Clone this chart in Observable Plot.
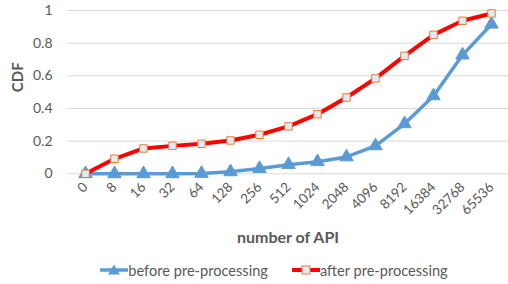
<!DOCTYPE html>
<html>
<head>
<meta charset="utf-8">
<script src="https://cdn.jsdelivr.net/npm/d3@7"></script>
<script src="https://cdn.jsdelivr.net/npm/@observablehq/plot@0.6"></script>
<style>
  html, body { margin: 0; padding: 0; background: #fff; }
  body { width: 508px; height: 284px; overflow: hidden; font-family: Lato, "Open Sans", sans-serif; }
  #legend { display: flex; justify-content: center; align-items: center; height: 28px; font-size: 14.6px; color: #595959; gap: 24px; padding-left: 40px; box-sizing: border-box; width: 508px; }
  #legend .item { display: flex; align-items: center; }
  #legend svg { display: block; }
</style>
</head>
<body>
<div id="chart"></div>
<div id="legend"></div>
<script>
const labels = ["0","8","16","32","64","128","256","512","1024","2048","4096","8192","16384","32768","65536"];
const before = [0, 0, 0, 0, 0.002, 0.012, 0.032, 0.056, 0.074, 0.103, 0.171, 0.306, 0.477, 0.727, 0.916];
const after = [0, 0.092, 0.155, 0.171, 0.184, 0.204, 0.239, 0.290, 0.365, 0.467, 0.584, 0.722, 0.851, 0.937, 0.982];
const yTicks = [0, 0.2, 0.4, 0.6, 0.8, 1];
const seriesNames = ["before pre-processing", "after pre-processing"];

const blue = "#5B9BD5", red = "#FF0000", orange = "#ED7D31", sqFill = "#DDEBF7";

const dBefore = labels.map((l, i) => ({x: l, y: before[i]}));
const dAfter = labels.map((l, i) => ({x: l, y: after[i]}));

const chart = Plot.plot({
  width: 508,
  height: 256,
  marginTop: 10,
  marginBottom: 82.7,
  marginLeft: 67,
  marginRight: 0,
  style: {fontFamily: "Lato, 'Open Sans', sans-serif", fontSize: "13px", color: "#595959", background: "#fff"},
  x: {type: "point", domain: labels, padding: 0.5},
  y: {domain: [0, 1]},
  marks: [
    Plot.gridY(yTicks, {stroke: "#D9D9D9", strokeOpacity: 1, strokeWidth: 1}),
    Plot.axisY(yTicks, {tickSize: 0, tickPadding: 15, label: null, fontSize: 14, fill: "#595959", tickFormat: d => String(d)}),
    Plot.axisX(labels, {tickSize: 0, tickPadding: 11, tickRotate: -45, label: null, fontSize: 13.5, fill: "#595959"}),
    Plot.line(dBefore, {x: "x", y: "y", stroke: blue, strokeWidth: 3.5}),
    Plot.dot(dBefore, {x: "x", y: "y", symbol: "triangle", r: 5, fill: blue, stroke: blue, strokeWidth: 1}),
    Plot.line(dAfter, {x: "x", y: "y", stroke: red, strokeWidth: 4}),
    Plot.dot(dAfter, {x: "x", y: "y", symbol: "square", r: 4.2, fill: sqFill, stroke: orange, strokeWidth: 1}),
    Plot.text(["CDF"], {frameAnchor: "left", dx: -49, rotate: -90, fontWeight: "bold", fontSize: 15, fill: "#595959"}),
    Plot.text(["number of API"], {frameAnchor: "bottom", dy: 69.5, fontWeight: "bold", fontSize: 16, fill: "#595959"})
  ]
});
document.getElementById("chart").appendChild(chart);

const legend = document.getElementById("legend");
const icons = [
  `<svg width="28" height="12"><line x1="0" y1="6" x2="28" y2="6" stroke="${blue}" stroke-width="3.5"/><path d="M14,0.5 L20,10.5 L8,10.5 Z" fill="${blue}"/></svg>`,
  `<svg width="28" height="12"><line x1="0" y1="6" x2="28" y2="6" stroke="${red}" stroke-width="4"/><rect x="10" y="2" width="8" height="8" fill="${sqFill}" stroke="${orange}"/></svg>`
];
seriesNames.forEach((n, i) => {
  const it = document.createElement("div");
  it.className = "item";
  it.innerHTML = icons[i] + `<span>${n}</span>`;
  legend.appendChild(it);
});
</script>
</body>
</html>
